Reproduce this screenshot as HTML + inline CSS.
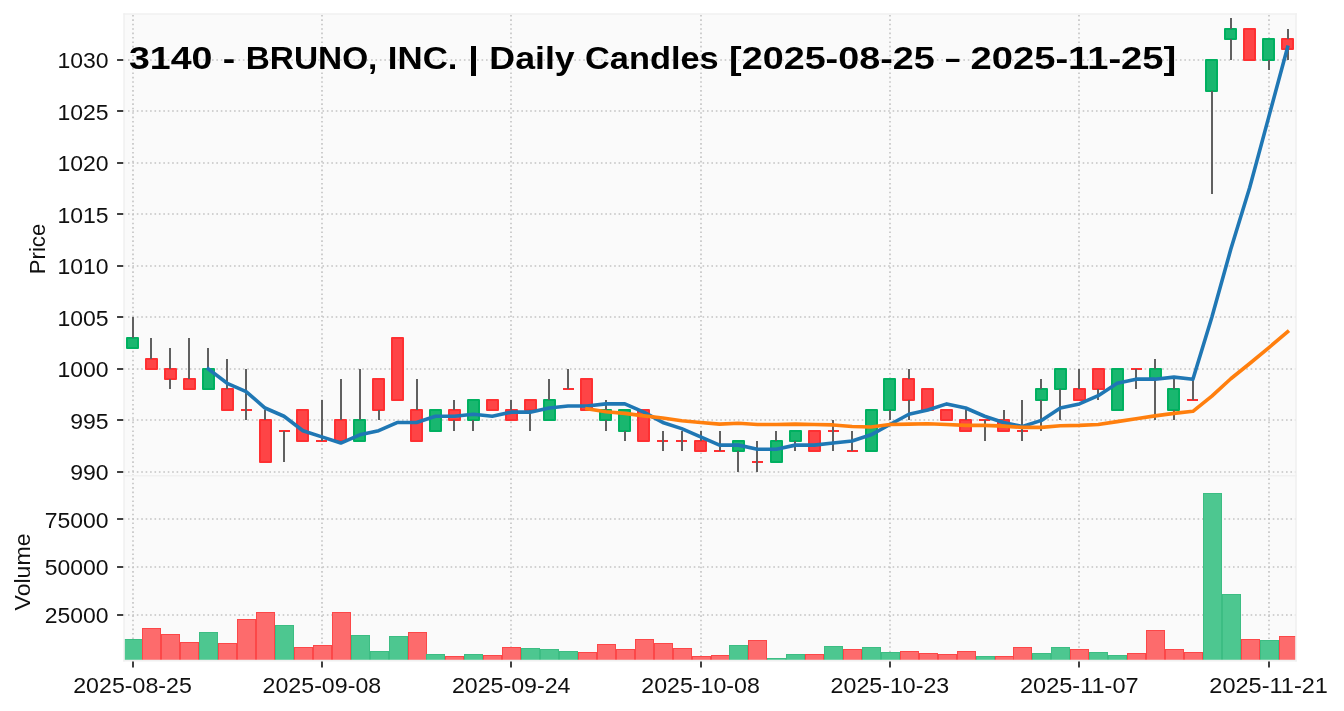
<!DOCTYPE html><html><head><meta charset="utf-8"><style>html,body{margin:0;padding:0;background:#fff;}svg{display:block;will-change:transform;}text{font-family:"Liberation Sans",sans-serif;}</style></head><body>
<svg width="1344" height="711" viewBox="0 0 1344 711">
<rect x="0" y="0" width="1344" height="711" fill="#ffffff"/>
<rect x="124.05" y="13.95" width="1171.95" height="461.75" fill="#fafafa"/>
<rect x="124.05" y="475.7" width="1171.95" height="184.90" fill="#fafafa"/>
<g stroke="#c3c3c3" stroke-width="1.6" stroke-dasharray="1.6 2.82" stroke-dashoffset="0.5" fill="none"><line x1="124.05" y1="472" x2="1296.0" y2="472"/><line x1="124.05" y1="420" x2="1296.0" y2="420"/><line x1="124.05" y1="369" x2="1296.0" y2="369"/><line x1="124.05" y1="317" x2="1296.0" y2="317"/><line x1="124.05" y1="266" x2="1296.0" y2="266"/><line x1="124.05" y1="214" x2="1296.0" y2="214"/><line x1="124.05" y1="163" x2="1296.0" y2="163"/><line x1="124.05" y1="111" x2="1296.0" y2="111"/><line x1="124.05" y1="60" x2="1296.0" y2="60"/><line x1="124.05" y1="615" x2="1296.0" y2="615"/><line x1="124.05" y1="567" x2="1296.0" y2="567"/><line x1="124.05" y1="519" x2="1296.0" y2="519"/><line x1="133" y1="475.7" x2="133" y2="13.95"/><line x1="133" y1="660.6" x2="133" y2="475.7"/><line x1="322" y1="475.7" x2="322" y2="13.95"/><line x1="322" y1="660.6" x2="322" y2="475.7"/><line x1="511" y1="475.7" x2="511" y2="13.95"/><line x1="511" y1="660.6" x2="511" y2="475.7"/><line x1="701" y1="475.7" x2="701" y2="13.95"/><line x1="701" y1="660.6" x2="701" y2="475.7"/><line x1="890" y1="475.7" x2="890" y2="13.95"/><line x1="890" y1="660.6" x2="890" y2="475.7"/><line x1="1079" y1="475.7" x2="1079" y2="13.95"/><line x1="1079" y1="660.6" x2="1079" y2="475.7"/><line x1="1269" y1="475.7" x2="1269" y2="13.95"/><line x1="1269" y1="660.6" x2="1269" y2="475.7"/></g>
<clipPath id="cv"><rect x="124.05" y="475.7" width="1171.95" height="184.90"/></clipPath>
<g clip-path="url(#cv)"><rect x="124.5" y="639.5" width="18.0" height="26.10" fill="#4dc790" stroke="#3cbd83" stroke-width="1.0"/><rect x="142.5" y="628.5" width="18.0" height="37.10" fill="#fd6b6c" stroke="#fc4748" stroke-width="1.0"/><rect x="161.5" y="634.5" width="18.0" height="31.10" fill="#fd6b6c" stroke="#fc4748" stroke-width="1.0"/><rect x="180.5" y="642.5" width="18.0" height="23.10" fill="#fd6b6c" stroke="#fc4748" stroke-width="1.0"/><rect x="199.5" y="632.5" width="18.0" height="33.10" fill="#4dc790" stroke="#3cbd83" stroke-width="1.0"/><rect x="218.5" y="643.5" width="18.0" height="22.10" fill="#fd6b6c" stroke="#fc4748" stroke-width="1.0"/><rect x="237.5" y="619.5" width="18.0" height="46.10" fill="#fd6b6c" stroke="#fc4748" stroke-width="1.0"/><rect x="256.5" y="612.5" width="18.0" height="53.10" fill="#fd6b6c" stroke="#fc4748" stroke-width="1.0"/><rect x="275.5" y="625.5" width="18.0" height="40.10" fill="#4dc790" stroke="#3cbd83" stroke-width="1.0"/><rect x="294.5" y="647.5" width="18.0" height="18.10" fill="#fd6b6c" stroke="#fc4748" stroke-width="1.0"/><rect x="313.5" y="645.5" width="18.0" height="20.10" fill="#fd6b6c" stroke="#fc4748" stroke-width="1.0"/><rect x="332.5" y="612.5" width="18.0" height="53.10" fill="#fd6b6c" stroke="#fc4748" stroke-width="1.0"/><rect x="351.5" y="635.5" width="18.0" height="30.10" fill="#4dc790" stroke="#3cbd83" stroke-width="1.0"/><rect x="370.5" y="651.5" width="18.0" height="14.10" fill="#4dc790" stroke="#3cbd83" stroke-width="1.0"/><rect x="389.5" y="636.5" width="18.0" height="29.10" fill="#4dc790" stroke="#3cbd83" stroke-width="1.0"/><rect x="408.5" y="632.5" width="18.0" height="33.10" fill="#fd6b6c" stroke="#fc4748" stroke-width="1.0"/><rect x="426.5" y="654.5" width="18.0" height="11.10" fill="#4dc790" stroke="#3cbd83" stroke-width="1.0"/><rect x="445.5" y="656.5" width="18.0" height="9.10" fill="#fd6b6c" stroke="#fc4748" stroke-width="1.0"/><rect x="464.5" y="654.5" width="18.0" height="11.10" fill="#4dc790" stroke="#3cbd83" stroke-width="1.0"/><rect x="483.5" y="655.5" width="18.0" height="10.10" fill="#fd6b6c" stroke="#fc4748" stroke-width="1.0"/><rect x="502.5" y="647.5" width="18.0" height="18.10" fill="#fd6b6c" stroke="#fc4748" stroke-width="1.0"/><rect x="521.5" y="648.5" width="18.0" height="17.10" fill="#4dc790" stroke="#3cbd83" stroke-width="1.0"/><rect x="540.5" y="649.5" width="18.0" height="16.10" fill="#4dc790" stroke="#3cbd83" stroke-width="1.0"/><rect x="559.5" y="651.5" width="18.0" height="14.10" fill="#4dc790" stroke="#3cbd83" stroke-width="1.0"/><rect x="578.5" y="652.5" width="18.0" height="13.10" fill="#fd6b6c" stroke="#fc4748" stroke-width="1.0"/><rect x="597.5" y="644.5" width="18.0" height="21.10" fill="#fd6b6c" stroke="#fc4748" stroke-width="1.0"/><rect x="616.5" y="649.5" width="18.0" height="16.10" fill="#fd6b6c" stroke="#fc4748" stroke-width="1.0"/><rect x="635.5" y="639.5" width="18.0" height="26.10" fill="#fd6b6c" stroke="#fc4748" stroke-width="1.0"/><rect x="654.5" y="643.5" width="18.0" height="22.10" fill="#fd6b6c" stroke="#fc4748" stroke-width="1.0"/><rect x="673.5" y="648.5" width="18.0" height="17.10" fill="#fd6b6c" stroke="#fc4748" stroke-width="1.0"/><rect x="692.5" y="656.5" width="18.0" height="9.10" fill="#fd6b6c" stroke="#fc4748" stroke-width="1.0"/><rect x="711.5" y="655.5" width="18.0" height="10.10" fill="#fd6b6c" stroke="#fc4748" stroke-width="1.0"/><rect x="729.5" y="645.5" width="18.0" height="20.10" fill="#4dc790" stroke="#3cbd83" stroke-width="1.0"/><rect x="748.5" y="640.5" width="18.0" height="25.10" fill="#fd6b6c" stroke="#fc4748" stroke-width="1.0"/><rect x="767.5" y="658.5" width="18.0" height="7.10" fill="#4dc790" stroke="#3cbd83" stroke-width="1.0"/><rect x="786.5" y="654.5" width="18.0" height="11.10" fill="#4dc790" stroke="#3cbd83" stroke-width="1.0"/><rect x="805.5" y="654.5" width="18.0" height="11.10" fill="#fd6b6c" stroke="#fc4748" stroke-width="1.0"/><rect x="824.5" y="646.5" width="18.0" height="19.10" fill="#4dc790" stroke="#3cbd83" stroke-width="1.0"/><rect x="843.5" y="649.5" width="18.0" height="16.10" fill="#fd6b6c" stroke="#fc4748" stroke-width="1.0"/><rect x="862.5" y="647.5" width="18.0" height="18.10" fill="#4dc790" stroke="#3cbd83" stroke-width="1.0"/><rect x="881.5" y="652.5" width="18.0" height="13.10" fill="#4dc790" stroke="#3cbd83" stroke-width="1.0"/><rect x="900.5" y="651.5" width="18.0" height="14.10" fill="#fd6b6c" stroke="#fc4748" stroke-width="1.0"/><rect x="919.5" y="653.5" width="18.0" height="12.10" fill="#fd6b6c" stroke="#fc4748" stroke-width="1.0"/><rect x="938.5" y="654.5" width="18.0" height="11.10" fill="#fd6b6c" stroke="#fc4748" stroke-width="1.0"/><rect x="957.5" y="651.5" width="18.0" height="14.10" fill="#fd6b6c" stroke="#fc4748" stroke-width="1.0"/><rect x="976.5" y="656.5" width="18.0" height="9.10" fill="#4dc790" stroke="#3cbd83" stroke-width="1.0"/><rect x="995.5" y="656.5" width="18.0" height="9.10" fill="#fd6b6c" stroke="#fc4748" stroke-width="1.0"/><rect x="1013.5" y="647.5" width="18.0" height="18.10" fill="#fd6b6c" stroke="#fc4748" stroke-width="1.0"/><rect x="1032.5" y="653.5" width="18.0" height="12.10" fill="#4dc790" stroke="#3cbd83" stroke-width="1.0"/><rect x="1051.5" y="647.5" width="18.0" height="18.10" fill="#4dc790" stroke="#3cbd83" stroke-width="1.0"/><rect x="1070.5" y="649.5" width="18.0" height="16.10" fill="#fd6b6c" stroke="#fc4748" stroke-width="1.0"/><rect x="1089.5" y="652.5" width="18.0" height="13.10" fill="#4dc790" stroke="#3cbd83" stroke-width="1.0"/><rect x="1108.5" y="655.5" width="18.0" height="10.10" fill="#4dc790" stroke="#3cbd83" stroke-width="1.0"/><rect x="1127.5" y="653.5" width="18.0" height="12.10" fill="#fd6b6c" stroke="#fc4748" stroke-width="1.0"/><rect x="1146.5" y="630.5" width="18.0" height="35.10" fill="#fd6b6c" stroke="#fc4748" stroke-width="1.0"/><rect x="1165.5" y="649.5" width="18.0" height="16.10" fill="#fd6b6c" stroke="#fc4748" stroke-width="1.0"/><rect x="1184.5" y="652.5" width="18.0" height="13.10" fill="#fd6b6c" stroke="#fc4748" stroke-width="1.0"/><rect x="1203.5" y="493.5" width="18.0" height="172.10" fill="#4dc790" stroke="#3cbd83" stroke-width="1.0"/><rect x="1222.5" y="594.5" width="18.0" height="71.10" fill="#4dc790" stroke="#3cbd83" stroke-width="1.0"/><rect x="1241.5" y="639.5" width="18.0" height="26.10" fill="#fd6b6c" stroke="#fc4748" stroke-width="1.0"/><rect x="1260.5" y="640.5" width="18.0" height="25.10" fill="#4dc790" stroke="#3cbd83" stroke-width="1.0"/><rect x="1279.5" y="636.5" width="18.0" height="29.10" fill="#fd6b6c" stroke="#fc4748" stroke-width="1.0"/></g>
<g><rect x="127" y="338" width="11" height="10" fill="#19b76f" stroke="#00b060" stroke-width="2.0" stroke-linejoin="round"/><rect x="146" y="359" width="11" height="10" fill="#fe4446" stroke="#fe3032" stroke-width="2.0" stroke-linejoin="round"/><rect x="165" y="369" width="11" height="10" fill="#fe4446" stroke="#fe3032" stroke-width="2.0" stroke-linejoin="round"/><rect x="184" y="379" width="11" height="10" fill="#fe4446" stroke="#fe3032" stroke-width="2.0" stroke-linejoin="round"/><rect x="203" y="369" width="11" height="20" fill="#19b76f" stroke="#00b060" stroke-width="2.0" stroke-linejoin="round"/><rect x="222" y="389" width="11" height="21" fill="#fe4446" stroke="#fe3032" stroke-width="2.0" stroke-linejoin="round"/><line x1="241" y1="410" x2="252" y2="410" stroke="#fe3032" stroke-width="2.0" stroke-linecap="butt"/><rect x="260" y="420" width="11" height="42" fill="#fe4446" stroke="#fe3032" stroke-width="2.0" stroke-linejoin="round"/><line x1="279" y1="431" x2="290" y2="431" stroke="#fe3032" stroke-width="2.0" stroke-linecap="butt"/><rect x="297" y="410" width="11" height="31" fill="#fe4446" stroke="#fe3032" stroke-width="2.0" stroke-linejoin="round"/><line x1="316" y1="441" x2="327" y2="441" stroke="#fe3032" stroke-width="2.0" stroke-linecap="butt"/><rect x="335" y="420" width="11" height="21" fill="#fe4446" stroke="#fe3032" stroke-width="2.0" stroke-linejoin="round"/><rect x="354" y="420" width="11" height="21" fill="#19b76f" stroke="#00b060" stroke-width="2.0" stroke-linejoin="round"/><rect x="373" y="379" width="11" height="31" fill="#fe4446" stroke="#fe3032" stroke-width="2.0" stroke-linejoin="round"/><rect x="392" y="338" width="11" height="62" fill="#fe4446" stroke="#fe3032" stroke-width="2.0" stroke-linejoin="round"/><rect x="411" y="410" width="11" height="31" fill="#fe4446" stroke="#fe3032" stroke-width="2.0" stroke-linejoin="round"/><rect x="430" y="410" width="11" height="21" fill="#19b76f" stroke="#00b060" stroke-width="2.0" stroke-linejoin="round"/><rect x="449" y="410" width="11" height="10" fill="#fe4446" stroke="#fe3032" stroke-width="2.0" stroke-linejoin="round"/><rect x="468" y="400" width="11" height="20" fill="#19b76f" stroke="#00b060" stroke-width="2.0" stroke-linejoin="round"/><rect x="487" y="400" width="11" height="10" fill="#fe4446" stroke="#fe3032" stroke-width="2.0" stroke-linejoin="round"/><rect x="506" y="410" width="11" height="10" fill="#fe4446" stroke="#fe3032" stroke-width="2.0" stroke-linejoin="round"/><rect x="525" y="400" width="11" height="10" fill="#fe4446" stroke="#fe3032" stroke-width="2.0" stroke-linejoin="round"/><rect x="544" y="400" width="11" height="20" fill="#19b76f" stroke="#00b060" stroke-width="2.0" stroke-linejoin="round"/><line x1="563" y1="389" x2="574" y2="389" stroke="#fe3032" stroke-width="2.0" stroke-linecap="butt"/><rect x="581" y="379" width="11" height="31" fill="#fe4446" stroke="#fe3032" stroke-width="2.0" stroke-linejoin="round"/><rect x="600" y="410" width="11" height="10" fill="#19b76f" stroke="#00b060" stroke-width="2.0" stroke-linejoin="round"/><rect x="619" y="410" width="11" height="21" fill="#19b76f" stroke="#00b060" stroke-width="2.0" stroke-linejoin="round"/><rect x="638" y="410" width="11" height="31" fill="#fe4446" stroke="#fe3032" stroke-width="2.0" stroke-linejoin="round"/><line x1="657" y1="441" x2="668" y2="441" stroke="#fe3032" stroke-width="2.0" stroke-linecap="butt"/><line x1="676" y1="441" x2="687" y2="441" stroke="#fe3032" stroke-width="2.0" stroke-linecap="butt"/><rect x="695" y="441" width="11" height="10" fill="#fe4446" stroke="#fe3032" stroke-width="2.0" stroke-linejoin="round"/><line x1="714" y1="451" x2="725" y2="451" stroke="#fe3032" stroke-width="2.0" stroke-linecap="butt"/><rect x="733" y="441" width="11" height="10" fill="#19b76f" stroke="#00b060" stroke-width="2.0" stroke-linejoin="round"/><line x1="752" y1="462" x2="763" y2="462" stroke="#fe3032" stroke-width="2.0" stroke-linecap="butt"/><rect x="771" y="441" width="11" height="21" fill="#19b76f" stroke="#00b060" stroke-width="2.0" stroke-linejoin="round"/><rect x="790" y="431" width="11" height="10" fill="#19b76f" stroke="#00b060" stroke-width="2.0" stroke-linejoin="round"/><rect x="809" y="431" width="11" height="20" fill="#fe4446" stroke="#fe3032" stroke-width="2.0" stroke-linejoin="round"/><line x1="828" y1="431" x2="839" y2="431" stroke="#fe3032" stroke-width="2.0" stroke-linecap="butt"/><line x1="847" y1="451" x2="858" y2="451" stroke="#fe3032" stroke-width="2.0" stroke-linecap="butt"/><rect x="866" y="410" width="11" height="41" fill="#19b76f" stroke="#00b060" stroke-width="2.0" stroke-linejoin="round"/><rect x="884" y="379" width="11" height="31" fill="#19b76f" stroke="#00b060" stroke-width="2.0" stroke-linejoin="round"/><rect x="903" y="379" width="11" height="21" fill="#fe4446" stroke="#fe3032" stroke-width="2.0" stroke-linejoin="round"/><rect x="922" y="389" width="11" height="21" fill="#fe4446" stroke="#fe3032" stroke-width="2.0" stroke-linejoin="round"/><rect x="941" y="410" width="11" height="10" fill="#fe4446" stroke="#fe3032" stroke-width="2.0" stroke-linejoin="round"/><rect x="960" y="420" width="11" height="11" fill="#fe4446" stroke="#fe3032" stroke-width="2.0" stroke-linejoin="round"/><line x1="979" y1="420" x2="990" y2="420" stroke="#fe3032" stroke-width="2.0" stroke-linecap="butt"/><rect x="998" y="420" width="11" height="11" fill="#fe4446" stroke="#fe3032" stroke-width="2.0" stroke-linejoin="round"/><line x1="1017" y1="431" x2="1028" y2="431" stroke="#fe3032" stroke-width="2.0" stroke-linecap="butt"/><rect x="1036" y="389" width="11" height="11" fill="#19b76f" stroke="#00b060" stroke-width="2.0" stroke-linejoin="round"/><rect x="1055" y="369" width="11" height="20" fill="#19b76f" stroke="#00b060" stroke-width="2.0" stroke-linejoin="round"/><rect x="1074" y="389" width="11" height="11" fill="#fe4446" stroke="#fe3032" stroke-width="2.0" stroke-linejoin="round"/><rect x="1093" y="369" width="11" height="20" fill="#fe4446" stroke="#fe3032" stroke-width="2.0" stroke-linejoin="round"/><rect x="1112" y="369" width="11" height="41" fill="#19b76f" stroke="#00b060" stroke-width="2.0" stroke-linejoin="round"/><line x1="1131" y1="369" x2="1142" y2="369" stroke="#fe3032" stroke-width="2.0" stroke-linecap="butt"/><rect x="1150" y="369" width="11" height="10" fill="#19b76f" stroke="#00b060" stroke-width="2.0" stroke-linejoin="round"/><rect x="1168" y="389" width="11" height="21" fill="#19b76f" stroke="#00b060" stroke-width="2.0" stroke-linejoin="round"/><line x1="1187" y1="400" x2="1198" y2="400" stroke="#fe3032" stroke-width="2.0" stroke-linecap="butt"/><rect x="1206" y="60" width="11" height="31" fill="#19b76f" stroke="#00b060" stroke-width="2.0" stroke-linejoin="round"/><rect x="1225" y="29" width="11" height="10" fill="#19b76f" stroke="#00b060" stroke-width="2.0" stroke-linejoin="round"/><rect x="1244" y="29" width="11" height="31" fill="#fe4446" stroke="#fe3032" stroke-width="2.0" stroke-linejoin="round"/><rect x="1263" y="39" width="11" height="21" fill="#19b76f" stroke="#00b060" stroke-width="2.0" stroke-linejoin="round"/><rect x="1282" y="39" width="11" height="10" fill="#fe4446" stroke="#fe3032" stroke-width="2.0" stroke-linejoin="round"/></g>
<g stroke="#606060" stroke-width="2.0"><line x1="133" y1="317" x2="133" y2="338"/><line x1="151" y1="338" x2="151" y2="359"/><line x1="170" y1="348" x2="170" y2="369"/><line x1="170" y1="379" x2="170" y2="389"/><line x1="189" y1="338" x2="189" y2="379"/><line x1="208" y1="348" x2="208" y2="369"/><line x1="227" y1="359" x2="227" y2="389"/><line x1="246" y1="369" x2="246" y2="410"/><line x1="246" y1="410" x2="246" y2="420"/><line x1="265" y1="410" x2="265" y2="420"/><line x1="284" y1="431" x2="284" y2="462"/><line x1="322" y1="400" x2="322" y2="441"/><line x1="341" y1="379" x2="341" y2="420"/><line x1="360" y1="369" x2="360" y2="420"/><line x1="379" y1="410" x2="379" y2="420"/><line x1="417" y1="379" x2="417" y2="410"/><line x1="454" y1="400" x2="454" y2="410"/><line x1="454" y1="420" x2="454" y2="431"/><line x1="473" y1="420" x2="473" y2="431"/><line x1="511" y1="400" x2="511" y2="410"/><line x1="530" y1="410" x2="530" y2="431"/><line x1="549" y1="379" x2="549" y2="400"/><line x1="568" y1="369" x2="568" y2="389"/><line x1="606" y1="400" x2="606" y2="410"/><line x1="606" y1="420" x2="606" y2="431"/><line x1="625" y1="431" x2="625" y2="441"/><line x1="663" y1="431" x2="663" y2="441"/><line x1="663" y1="441" x2="663" y2="451"/><line x1="682" y1="431" x2="682" y2="441"/><line x1="682" y1="441" x2="682" y2="451"/><line x1="701" y1="431" x2="701" y2="441"/><line x1="720" y1="431" x2="720" y2="451"/><line x1="738" y1="451" x2="738" y2="472"/><line x1="757" y1="441" x2="757" y2="462"/><line x1="757" y1="462" x2="757" y2="472"/><line x1="776" y1="431" x2="776" y2="441"/><line x1="795" y1="441" x2="795" y2="451"/><line x1="833" y1="420" x2="833" y2="431"/><line x1="833" y1="431" x2="833" y2="451"/><line x1="852" y1="431" x2="852" y2="451"/><line x1="890" y1="410" x2="890" y2="420"/><line x1="909" y1="369" x2="909" y2="379"/><line x1="909" y1="400" x2="909" y2="420"/><line x1="966" y1="410" x2="966" y2="420"/><line x1="985" y1="420" x2="985" y2="441"/><line x1="1004" y1="410" x2="1004" y2="420"/><line x1="1022" y1="400" x2="1022" y2="431"/><line x1="1022" y1="431" x2="1022" y2="441"/><line x1="1041" y1="379" x2="1041" y2="389"/><line x1="1041" y1="400" x2="1041" y2="431"/><line x1="1060" y1="389" x2="1060" y2="420"/><line x1="1079" y1="369" x2="1079" y2="389"/><line x1="1098" y1="389" x2="1098" y2="400"/><line x1="1136" y1="369" x2="1136" y2="389"/><line x1="1155" y1="359" x2="1155" y2="369"/><line x1="1155" y1="379" x2="1155" y2="420"/><line x1="1174" y1="379" x2="1174" y2="389"/><line x1="1174" y1="410" x2="1174" y2="420"/><line x1="1193" y1="379" x2="1193" y2="400"/><line x1="1212" y1="91" x2="1212" y2="194"/><line x1="1231" y1="18" x2="1231" y2="29"/><line x1="1231" y1="39" x2="1231" y2="60"/><line x1="1269" y1="60" x2="1269" y2="70"/><line x1="1288" y1="29" x2="1288" y2="39"/><line x1="1288" y1="49" x2="1288" y2="60"/></g>
<polyline points="208.26,368.86 227.20,383.29 246.13,391.53 265.07,408.02 284.00,416.27 302.94,430.70 321.88,436.88 340.81,443.06 359.75,434.82 378.68,430.70 397.62,422.45 416.55,422.45 435.49,416.27 454.42,416.27 473.36,414.21 492.29,416.27 511.23,412.15 530.17,412.15 549.10,408.02 568.04,405.96 586.97,405.96 605.91,403.90 624.84,403.90 643.78,412.15 662.71,422.45 681.65,428.63 700.59,436.88 719.52,445.12 738.46,445.12 757.39,449.25 776.33,449.25 795.26,445.12 814.20,445.12 833.13,443.06 852.07,441.00 871.00,434.82 889.94,424.51 908.88,414.21 927.81,410.08 946.75,403.90 965.68,408.02 984.62,416.27 1003.55,422.45 1022.49,426.57 1041.42,420.39 1060.36,408.02 1079.30,403.90 1098.23,395.66 1117.17,383.29 1136.10,379.17 1155.04,379.17 1173.97,377.10 1192.91,379.17 1211.84,317.33 1230.78,249.31 1249.71,187.47 1268.65,117.39 1287.59,47.31" fill="none" stroke="#1f77b4" stroke-width="3.6" stroke-linejoin="round" stroke-linecap="square"/>
<polyline points="586.97,408.85 605.91,411.73 624.84,413.38 643.78,415.86 662.71,417.92 681.65,420.80 700.59,422.45 719.52,424.10 738.46,423.28 757.39,424.51 776.33,424.51 795.26,424.10 814.20,424.51 833.13,424.92 852.07,426.57 871.00,426.99 889.94,424.51 908.88,424.10 927.81,423.69 946.75,424.51 965.68,425.34 984.62,425.34 1003.55,426.16 1022.49,427.40 1041.42,427.40 1060.36,425.75 1079.30,425.34 1098.23,424.51 1117.17,421.63 1136.10,418.74 1155.04,415.86 1173.97,413.38 1192.91,411.32 1211.84,396.07 1230.78,378.75 1249.71,363.50 1268.65,347.84 1287.59,331.76" fill="none" stroke="#ff7f0e" stroke-width="3.6" stroke-linejoin="round" stroke-linecap="square"/>
<g stroke="#101010" stroke-width="1.6"><line x1="117.05" y1="472" x2="124.05" y2="472"/><line x1="117.05" y1="420" x2="124.05" y2="420"/><line x1="117.05" y1="369" x2="124.05" y2="369"/><line x1="117.05" y1="317" x2="124.05" y2="317"/><line x1="117.05" y1="266" x2="124.05" y2="266"/><line x1="117.05" y1="214" x2="124.05" y2="214"/><line x1="117.05" y1="163" x2="124.05" y2="163"/><line x1="117.05" y1="111" x2="124.05" y2="111"/><line x1="117.05" y1="60" x2="124.05" y2="60"/><line x1="117.05" y1="615" x2="124.05" y2="615"/><line x1="117.05" y1="567" x2="124.05" y2="567"/><line x1="117.05" y1="519" x2="124.05" y2="519"/><line x1="133" y1="660.6" x2="133" y2="667.6"/><line x1="322" y1="660.6" x2="322" y2="667.6"/><line x1="511" y1="660.6" x2="511" y2="667.6"/><line x1="701" y1="660.6" x2="701" y2="667.6"/><line x1="890" y1="660.6" x2="890" y2="667.6"/><line x1="1079" y1="660.6" x2="1079" y2="667.6"/><line x1="1269" y1="660.6" x2="1269" y2="667.6"/></g>
<g stroke="#f0f0f0" stroke-width="1.6" stroke-linecap="square"><line x1="124.05" y1="13.95" x2="1296.0" y2="13.95"/><line x1="124.05" y1="475.7" x2="1296.0" y2="475.7"/><line x1="124.05" y1="660.6" x2="1296.0" y2="660.6"/><line x1="124.05" y1="13.95" x2="124.05" y2="660.6"/><line x1="1296.0" y1="13.95" x2="1296.0" y2="660.6"/></g>
<g fill="#101010" font-size="22.0"><text x="108.6" y="480.42" text-anchor="end" textLength="38.4" lengthAdjust="spacingAndGlyphs">990</text><text x="108.6" y="428.89" text-anchor="end" textLength="38.4" lengthAdjust="spacingAndGlyphs">995</text><text x="108.6" y="377.36" text-anchor="end" textLength="51.2" lengthAdjust="spacingAndGlyphs">1000</text><text x="108.6" y="325.83" text-anchor="end" textLength="51.2" lengthAdjust="spacingAndGlyphs">1005</text><text x="108.6" y="274.30" text-anchor="end" textLength="51.2" lengthAdjust="spacingAndGlyphs">1010</text><text x="108.6" y="222.77" text-anchor="end" textLength="51.2" lengthAdjust="spacingAndGlyphs">1015</text><text x="108.6" y="171.24" text-anchor="end" textLength="51.2" lengthAdjust="spacingAndGlyphs">1020</text><text x="108.6" y="119.71" text-anchor="end" textLength="51.2" lengthAdjust="spacingAndGlyphs">1025</text><text x="108.6" y="68.18" text-anchor="end" textLength="51.2" lengthAdjust="spacingAndGlyphs">1030</text><text x="108.6" y="623.10" text-anchor="end" textLength="63.8" lengthAdjust="spacingAndGlyphs">25000</text><text x="108.6" y="575.30" text-anchor="end" textLength="63.8" lengthAdjust="spacingAndGlyphs">50000</text><text x="108.6" y="527.50" text-anchor="end" textLength="63.8" lengthAdjust="spacingAndGlyphs">75000</text><text x="132.52" y="693.3" text-anchor="middle" font-size="22.8" textLength="118.6" lengthAdjust="spacingAndGlyphs">2025-08-25</text><text x="321.88" y="693.3" text-anchor="middle" font-size="22.8" textLength="118.6" lengthAdjust="spacingAndGlyphs">2025-09-08</text><text x="511.23" y="693.3" text-anchor="middle" font-size="22.8" textLength="118.6" lengthAdjust="spacingAndGlyphs">2025-09-24</text><text x="700.59" y="693.3" text-anchor="middle" font-size="22.8" textLength="118.6" lengthAdjust="spacingAndGlyphs">2025-10-08</text><text x="889.94" y="693.3" text-anchor="middle" font-size="22.8" textLength="118.6" lengthAdjust="spacingAndGlyphs">2025-10-23</text><text x="1079.30" y="693.3" text-anchor="middle" font-size="22.8" textLength="118.6" lengthAdjust="spacingAndGlyphs">2025-11-07</text><text x="1268.65" y="693.3" text-anchor="middle" font-size="22.8" textLength="118.6" lengthAdjust="spacingAndGlyphs">2025-11-21</text></g>
<text transform="translate(44.6,249) rotate(-90)" text-anchor="middle" font-size="22.0" fill="#101010" textLength="50.5" lengthAdjust="spacingAndGlyphs">Price</text>
<text transform="translate(29.8,572) rotate(-90)" text-anchor="middle" font-size="22.0" fill="#101010" textLength="77" lengthAdjust="spacingAndGlyphs">Volume</text>
<g font-size="31.4" font-weight="bold" fill="#000"><text y="69.0" x="128.90" textLength="83.49" lengthAdjust="spacingAndGlyphs">3140</text><text y="69.0" x="222.84" textLength="12.45" lengthAdjust="spacingAndGlyphs">-</text><text y="69.0" x="245.73" textLength="131.68" lengthAdjust="spacingAndGlyphs">BRUNO,</text><text y="69.0" x="387.85" textLength="69.68" lengthAdjust="spacingAndGlyphs">INC.</text><text y="69.0" x="467.98" textLength="10.96" lengthAdjust="spacingAndGlyphs">|</text><text y="69.0" x="489.38" textLength="85.27" lengthAdjust="spacingAndGlyphs">Daily</text><text y="69.0" x="585.09" textLength="133.58" lengthAdjust="spacingAndGlyphs">Candles</text><text y="69.0" x="729.12" textLength="205.60" lengthAdjust="spacingAndGlyphs">[2025-08-25</text><text y="69.0" x="945.16" textLength="15.00" lengthAdjust="spacingAndGlyphs">–</text><text y="69.0" x="970.61" textLength="205.60" lengthAdjust="spacingAndGlyphs">2025-11-25]</text></g>
</svg></body></html>
